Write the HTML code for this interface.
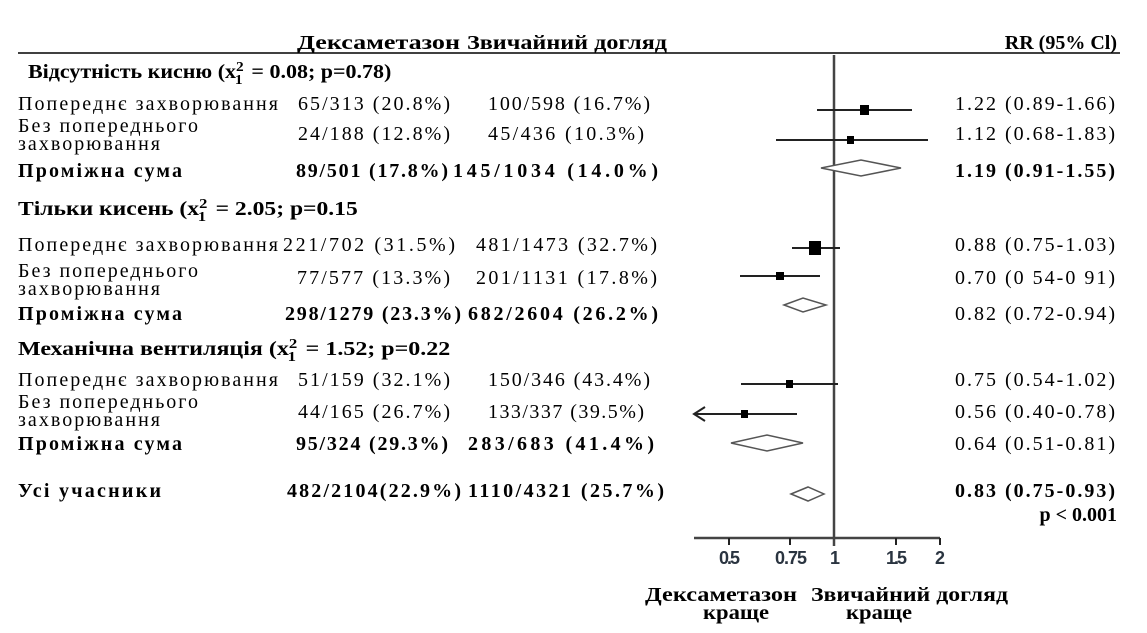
<!DOCTYPE html>
<html><head><meta charset="utf-8"><style>
body{margin:0;background:#fff;}
svg{display:block;}
text{font-family:"Liberation Serif","DejaVu Serif",serif;font-size:20px;fill:#000;}
.b{font-weight:bold;}
.h{font-weight:bold;font-size:20px;}
.t{font-family:"Liberation Sans",sans-serif;font-size:18px;fill:#2a3440;font-weight:bold;}
</style></head><body>
<svg width="1147" height="633" viewBox="0 0 1147 633">
<text x="297" y="49" class="b" textLength="163" lengthAdjust="spacingAndGlyphs">Дексаметазон</text>
<text x="467" y="49" class="b" textLength="200" lengthAdjust="spacingAndGlyphs">Звичайний догляд</text>
<text x="1117" y="49" class="b" text-anchor="end">RR (95% Cl)</text>
<line x1="18" y1="53" x2="1120" y2="53" stroke="#000" stroke-width="1.5"/>

<g transform="translate(28,78) scale(1.1,1)"><text x="0" y="0" class="h">Відсутність кисню (x<tspan font-size="14" dy="-7">2</tspan><tspan font-size="14" dx="-8" dy="13">1</tspan><tspan dy="-6" dx="3"> = 0.08; p=0.78)</tspan></text></g>
<g transform="translate(18,215) scale(1.18,1)"><text x="0" y="0" class="h">Тільки кисень (x<tspan font-size="14" dy="-7">2</tspan><tspan font-size="14" dx="-8" dy="13">1</tspan><tspan dy="-6" dx="3"> = 2.05; p=0.15</tspan></text></g>
<g transform="translate(18,355) scale(1.2,1)"><text x="0" y="0" class="h">Механічна вентиляція (x<tspan font-size="14" dy="-7">2</tspan><tspan font-size="14" dx="-8" dy="13">1</tspan><tspan dy="-6" dx="3"> = 1.52; p=0.22</tspan></text></g>
<g lengthAdjust="spacing">
<text x="18" y="110" textLength="260">Попереднє захворювання</text><text x="298" y="110" textLength="152">65/313 (20.8%)</text><text x="488" y="110" textLength="162">100/598 (16.7%)</text><text x="955" y="110" textLength="160">1.22 (0.89-1.66)</text>
<text x="18" y="132" textLength="180">Без попереднього</text><text x="18" y="150" textLength="142">захворювання</text><text x="298" y="140" textLength="152">24/188 (12.8%)</text><text x="488" y="140" textLength="156">45/436 (10.3%)</text><text x="955" y="140" textLength="160">1.12 (0.68-1.83)</text>
<text x="18" y="177" class="b" textLength="164">Проміжна сума</text><text x="296" y="177" class="b" textLength="152">89/501 (17.8%)</text><text x="453" y="177" class="b" textLength="205">145/1034 (14.0%)</text><text x="955" y="177" class="b" textLength="160">1.19 (0.91-1.55)</text>

<text x="18" y="251" textLength="260">Попереднє захворювання</text><text x="283" y="251" textLength="172">221/702 (31.5%)</text><text x="476" y="251" textLength="181">481/1473 (32.7%)</text><text x="955" y="251" textLength="160">0.88 (0.75-1.03)</text>
<text x="18" y="277" textLength="180">Без попереднього</text><text x="18" y="295" textLength="142">захворювання</text><text x="297" y="284" textLength="153">77/577 (13.3%)</text><text x="476" y="284" textLength="181">201/1131 (17.8%)</text><text x="955" y="284" textLength="160">0.70 (0 54-0 91)</text>
<text x="18" y="320" class="b" textLength="164">Проміжна сума</text><text x="285" y="320" class="b" textLength="176">298/1279 (23.3%)</text><text x="468" y="320" class="b" textLength="190">682/2604 (26.2%)</text><text x="955" y="320" textLength="160">0.82 (0.72-0.94)</text>

<text x="18" y="386" textLength="260">Попереднє захворювання</text><text x="298" y="386" textLength="152">51/159 (32.1%)</text><text x="488" y="386" textLength="162">150/346 (43.4%)</text><text x="955" y="386" textLength="160">0.75 (0.54-1.02)</text>
<text x="18" y="408" textLength="180">Без попереднього</text><text x="18" y="426" textLength="142">захворювання</text><text x="298" y="418" textLength="152">44/165 (26.7%)</text><text x="488" y="418" textLength="156">133/337 (39.5%)</text><text x="955" y="418" textLength="160">0.56 (0.40-0.78)</text>
<text x="18" y="450" class="b" textLength="164">Проміжна сума</text><text x="296" y="450" class="b" textLength="152">95/324 (29.3%)</text><text x="468" y="450" class="b" textLength="186">283/683 (41.4%)</text><text x="955" y="450" textLength="160">0.64 (0.51-0.81)</text>

<text x="18" y="497" class="b" textLength="143">Усі учасники</text><text x="287" y="497" class="b" textLength="174">482/2104(22.9%)</text><text x="468" y="497" class="b" textLength="196">1110/4321 (25.7%)</text><text x="955" y="497" class="b" textLength="160">0.83 (0.75-0.93)</text>
</g>
<text x="1117" y="521" class="b" text-anchor="end">p &lt; 0.001</text>

<g stroke="#222" stroke-width="2" fill="none">
<line x1="834" y1="55" x2="834" y2="546" stroke="#444" stroke-width="2.5"/>
<line x1="694" y1="538" x2="940" y2="538" stroke="#444" stroke-width="2.5"/>
<line x1="729" y1="538" x2="729" y2="545"/><line x1="790" y1="538" x2="790" y2="545"/>
<line x1="896" y1="538" x2="896" y2="545"/><line x1="940" y1="538" x2="940" y2="545"/>
<line x1="817" y1="110" x2="912" y2="110"/>
<line x1="776" y1="140" x2="928" y2="140"/>
<line x1="792" y1="248" x2="840" y2="248"/>
<line x1="740" y1="276" x2="820" y2="276"/>
<line x1="741" y1="384" x2="838" y2="384"/>
<line x1="694" y1="414" x2="797" y2="414"/>
<polyline points="705,407 694,414 705,421"/>
</g>
<g fill="#000">
<rect x="860" y="105" width="9" height="10"/>
<rect x="847" y="136" width="7" height="8"/>
<rect x="809" y="241" width="12" height="14"/>
<rect x="776" y="272" width="8" height="8"/>
<rect x="786" y="380" width="7" height="8"/>
<rect x="741" y="410" width="7" height="8"/>
</g>
<g stroke="#555" stroke-width="1.5" fill="#fff">
<polygon points="821,168 861,160 901,168 861,176"/>
<polygon points="784,305 803,298 826,305 803,312"/>
<polygon points="731,443 767,435 803,443 767,451"/>
<polygon points="791,494 808,487 824,494 808,501"/>
</g>
<g lengthAdjust="spacingAndGlyphs">
<text class="t" x="719" y="564" textLength="21">0.5</text>
<text class="t" x="775" y="564" textLength="32">0.75</text>
<text class="t" x="830" y="564" textLength="8">1</text>
<text class="t" x="886" y="564" textLength="21">1.5</text>
<text class="t" x="935" y="564" textLength="10">2</text>
</g>
<text x="645" y="601" class="b" textLength="152" lengthAdjust="spacingAndGlyphs">Дексаметазон</text>
<text x="703" y="619" class="b" textLength="66" lengthAdjust="spacingAndGlyphs">краще</text>
<text x="811" y="601" class="b" textLength="197" lengthAdjust="spacingAndGlyphs">Звичайний догляд</text>
<text x="846" y="619" class="b" textLength="66" lengthAdjust="spacingAndGlyphs">краще</text>
</svg>
</body></html>
